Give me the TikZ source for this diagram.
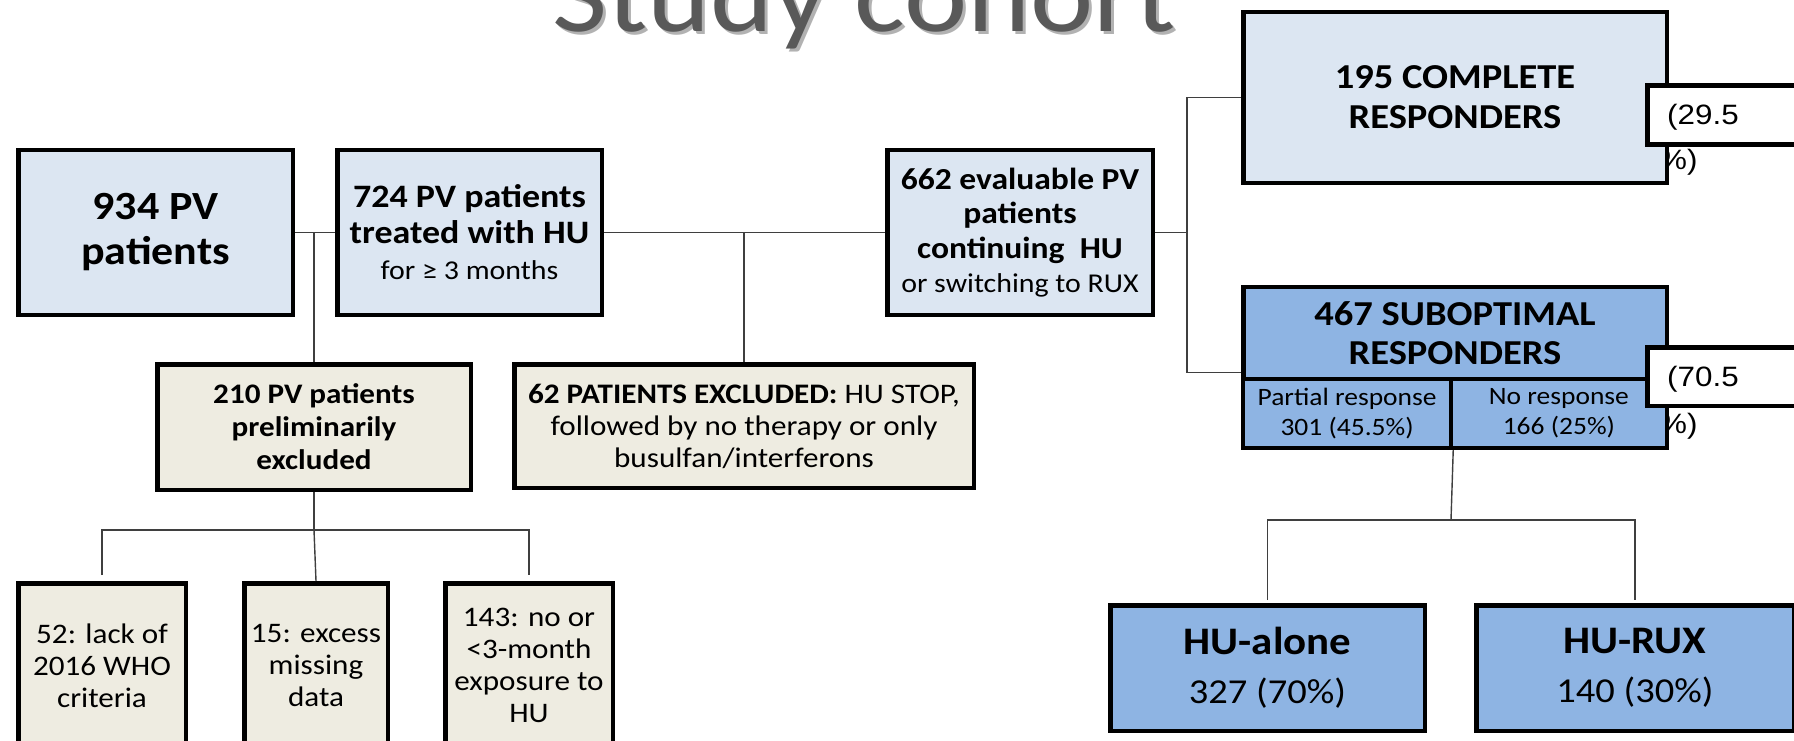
\documentclass[tikz,border=0pt]{standalone}
\usepackage{fontspec}
\setmainfont{Carlito}[FakeStretch=1.1]
\newfontfamily\arialfont{Liberation Sans}[FakeStretch=1.12]
\usetikzlibrary{positioning}
\definecolor{paleblue}{HTML}{DCE6F2}
\definecolor{midblue}{HTML}{8EB4E3}
\definecolor{beige}{HTML}{EEECE1}
\definecolor{titlegray}{HTML}{595959}
\definecolor{linkgray}{HTML}{3F3F3F}

\begin{document}
\begin{tikzpicture}[x=1pt, y=-1pt,
    stage/.style={draw, line width=4.5pt, inner sep=0pt, align=center},
    cohort/.style={stage, fill=paleblue},
    subopt/.style={stage, fill=midblue},
    excl/.style={stage, fill=beige},
    pct box/.style={draw, line width=4.5pt, fill=white, inner sep=0pt, minimum width=150.5pt, minimum height=59pt},
    pct/.style={font=\arialfont\fontsize{28}{32}\selectfont, inner sep=0pt, anchor=base west},
    link/.style={draw=linkgray, line width=1.4pt}]

    \useasboundingbox (0,0) rectangle (1794,741);

    % Title, partly off the top edge
    \node[font=\fontsize{109}{130}\selectfont, text=black!30, anchor=base] (title-shadow) at (867,35) {Study cohort};
    \node[font=\fontsize{109}{130}\selectfont, text=titlegray, anchor=base] (title) at (864,32) {Study cohort};

    % Main line of the cohort
    \node[cohort, minimum width=274.5pt, minimum height=164.5pt, font=\bfseries\fontsize{40}{45}\selectfont] (all) at (155.5,232.5) {934 PV\\patients};
    \node[cohort, right=40pt of all, minimum width=264.5pt, minimum height=164.5pt, font=\fontsize{32.7}{36}\selectfont] (treated) {\textbf{724 PV patients}\\\textbf{treated with HU}\\{\fontsize{27.2}{36}\selectfont for ≥ 3 months}};
    \node[cohort, minimum width=265.5pt, minimum height=164.5pt, font=\fontsize{30.5}{34.5}\selectfont] (evaluable) at (1020,232.5) {\textbf{662 evaluable PV}\\\textbf{patients}\\\textbf{continuing~~HU}\\{\fontsize{27.2}{34.5}\selectfont or switching to RUX}};

    % Overflowing percent texts (behind the response boxes)
    \node[pct] (pct-cr-end) at (1659,169) {\%)};
    \node[pct] (pct-sr-end) at (1659,433) {\%)};

    % Responders
    \node[cohort, minimum width=423.5pt, minimum height=170.5pt, font=\bfseries\fontsize{35}{40}\selectfont] (complete) at (1455,97.5) {195 COMPLETE\\RESPONDERS};
    \node[subopt, minimum width=423.5pt, minimum height=92pt, font=\bfseries\fontsize{35}{39}\selectfont] (subopt) at (1455,333) {467 SUBOPTIMAL\\RESPONDERS};
    \node[subopt, minimum width=207.75pt, minimum height=68.75pt, font=\fontsize{25}{30}\selectfont] (partial) at (1347.1,413.4) {Partial response\\301 (45.5\%)};
    \node[subopt, minimum width=215.75pt, minimum height=68.75pt, font=\fontsize{25}{30}\selectfont] (noresp) at (1558.9,413.4) {No response\\166 (25\%)};

    \node[pct box] (pct-cr) at (1722.5,115) {};
    \node[pct] at (1667,124.5) {(29.5};
    \node[pct box, minimum height=58.5pt] (pct-sr) at (1722.5,376.5) {};
    \node[pct] at (1667,386) {(70.5};

    % Treatment arms
    \node[subopt, minimum width=314.5pt, minimum height=125.5pt, font=\fontsize{35}{49}\selectfont] (hu-alone) at (1267.5,668) {{\bfseries\fontsize{39}{49}\selectfont HU-alone}\\327 (70\%)};
    \node[subopt, right=47pt of hu-alone, minimum width=317.5pt, minimum height=125.5pt, font=\fontsize{35}{49}\selectfont] (hu-rux) {{\bfseries\fontsize{39}{49}\selectfont HU-RUX}\\140 (30\%)};

    % Exclusions
    \node[excl, minimum width=313.5pt, minimum height=125.5pt, font=\bfseries\fontsize{28.3}{33}\selectfont] (prelim) at (314,427) {210 PV patients\\preliminarily\\excluded};
    \node[excl, minimum width=459.5pt, minimum height=123.5pt, font=\fontsize{28.3}{32}\selectfont] (stopped) at (744,426) {\textbf{62 PATIENTS EXCLUDED:} HU STOP,\\followed by no therapy or only\\busulfan/interferons};

    \node[excl, minimum width=167.5pt, minimum height=164.5pt, font=\fontsize{28.3}{32}\selectfont] (who) at (102,665.5) {52: lack of\\2016 WHO\\criteria};
    \node[excl, minimum width=143.5pt, minimum height=164.5pt, font=\fontsize{28.3}{32}\selectfont] (missing) at (316,665.5) {15: excess\\missing\\data};
    \node[excl, minimum width=167.5pt, minimum height=164.5pt, font=\fontsize{28.3}{32}\selectfont] (exposure) at (529,665.5) {143: no or\\<3-month\\exposure to\\HU};

    % Connectors
    \coordinate (resp-fork) at (1187,232.5);
    \coordinate (arm-fork) at (1451,520);
    \coordinate (excl-fork) at (314,530);

    \draw[link] (all) -- (treated);
    \draw[link] (prelim.north) -- (prelim.north |- all.east);
    \draw[link] (treated) -- (evaluable);
    \draw[link] (stopped.north) -- (stopped.north |- treated.east);
    \draw[link] (evaluable.east) -- (resp-fork);
    \draw[link] (complete.west) -| (resp-fork) |- ([yshift=9pt]subopt.south west);
    \draw[link] (partial.south east) -- (arm-fork);
    \draw[link, shorten <=3pt] (hu-alone.north) |- (arm-fork) -| ([yshift=3pt]hu-rux.north);
    \draw[link] (prelim.south) -- (excl-fork);
    \draw[link, shorten <=6pt] (who.north) |- (excl-fork) -| ([yshift=6pt]exposure.north);
    \draw[link] (excl-fork) -- (missing.north);
\end{tikzpicture}
\end{document}
